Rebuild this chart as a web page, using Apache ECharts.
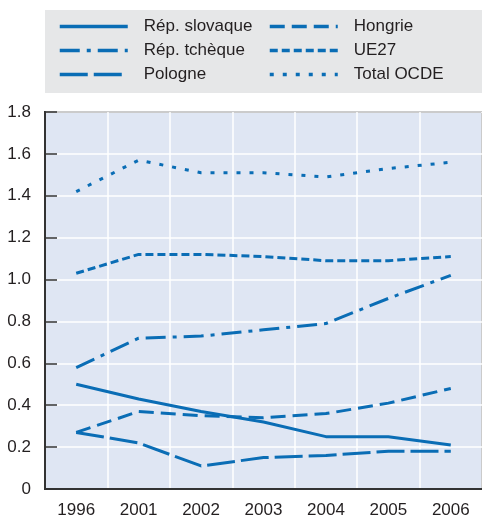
<!DOCTYPE html>
<html>
<head>
<meta charset="utf-8">
<script src="https://cdn.jsdelivr.net/npm/echarts@6/dist/echarts.min.js"></script>
<style>
  html, body { margin: 0; padding: 0; background: #fff; }
  #chart { width: 482px; height: 521px; }
</style>
</head>
<body>
<div id="chart"></div>
<script>
const years = ['1996', '2001', '2002', '2003', '2004', '2005', '2006']
const slovaque = [0.50, 0.43, 0.37, 0.32, 0.25, 0.25, 0.21]
const hongrie = [0.27, 0.37, 0.35, 0.34, 0.36, 0.41, 0.48]
const tcheque = [0.58, 0.72, 0.73, 0.76, 0.79, 0.91, 1.02]
const ue27 = [1.03, 1.12, 1.12, 1.11, 1.09, 1.09, 1.11]
const pologne = [0.27, 0.22, 0.11, 0.15, 0.16, 0.18, 0.18]
const ocde = [1.42, 1.57, 1.51, 1.51, 1.49, 1.53, 1.56]

const blue = '#0a6db5'
const font = '"Liberation Sans", Arial, sans-serif'
const txt = '#231f20'

function line(name, data, type) {
  return {
    name,
    type: 'line',
    data,
    symbol: 'none',
    lineStyle: { color: blue, width: 3, type },
    itemStyle: { color: blue }
  }
}

const legendCommon = {
  orient: 'vertical',
  top: 13,
  itemWidth: 68,
  itemHeight: 14,
  itemGap: 7,
  itemStyle: { color: 'transparent', borderWidth: 0, opacity: 0 },
  lineStyle: { width: 3.5 },
  textStyle: { fontFamily: font, fontSize: 17, color: txt, padding: [0, 0, 0, 11] },
  selectedMode: false
}

const chart = echarts.init(document.getElementById('chart'))
chart.setOption({
  animation: false,
  graphic: [{
    type: 'rect',
    shape: { x: 45, y: 10, width: 437, height: 83 },
    style: { fill: '#e6e7e8' },
    z: -1
  }],
  legend: [
    Object.assign({}, legendCommon, { left: 53, data: ['Rép. slovaque', 'Rép. tchèque', 'Pologne'] }),
    Object.assign({}, legendCommon, { left: 263, data: ['Hongrie', 'UE27', 'Total OCDE'] })
  ],
  grid: {
    left: 45, right: -2, top: 112, bottom: 32,
    show: true,
    backgroundColor: '#dfe6f3',
    borderColor: '#333',
    borderWidth: 2
  },
  xAxis: {
    type: 'category',
    data: years,
    boundaryGap: true,
    axisLine: { lineStyle: { color: '#333', width: 2 } },
    axisTick: { inside: true, length: 10, lineStyle: { color: '#333', width: 2 } },
    axisLabel: { fontFamily: font, fontSize: 17, color: txt, margin: 13 },
    splitLine: { show: true, lineStyle: { color: '#fff', width: 1.5 } }
  },
  yAxis: {
    type: 'value',
    min: 0, max: 1.8, interval: 0.2,
    axisLine: { show: true, lineStyle: { color: '#333', width: 2 } },
    axisTick: { show: true, inside: true, length: 12, lineStyle: { color: '#333', width: 1.5 } },
    axisLabel: {
      fontFamily: font, fontSize: 17, color: txt, margin: 14,
      formatter: v => v === 0 ? '0' : v.toFixed(1)
    },
    splitLine: { lineStyle: { color: '#fff', width: 1.5 } }
  },
  series: [
    line('Rép. slovaque', slovaque, 'solid'),
    line('Hongrie', hongrie, [15, 7]),
    line('Rép. tchèque', tcheque, [20, 7, 4, 7]),
    line('UE27', ue27, [8, 4]),
    line('Pologne', pologne, [28, 6]),
    line('Total OCDE', ocde, [4, 9])
  ]
})
</script>
</body>
</html>
